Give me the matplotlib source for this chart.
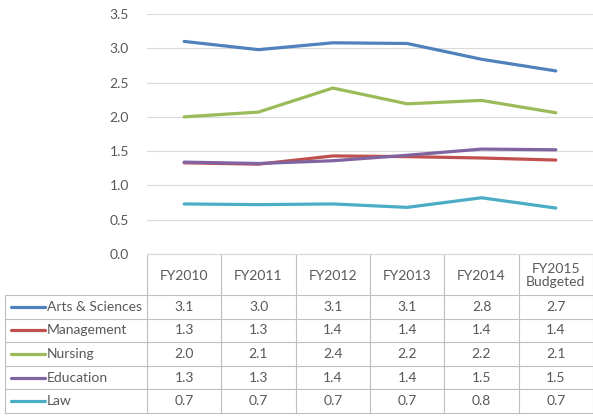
import matplotlib.pyplot as plt

# data
years = ['FY2010', 'FY2011', 'FY2012', 'FY2013', 'FY2014', 'FY2015\nBudgeted']
series_names = ['Arts & Sciences', 'Management', 'Nursing', 'Education', 'Law']
arts = [3.10, 2.98, 3.08, 3.07, 2.84, 2.67]
management = [1.33, 1.31, 1.43, 1.42, 1.40, 1.37]
nursing = [2.00, 2.07, 2.42, 2.19, 2.24, 2.06]
education = [1.34, 1.32, 1.36, 1.44, 1.53, 1.52]
law = [0.73, 0.72, 0.73, 0.68, 0.82, 0.67]
all_values = [arts, management, nursing, education, law]
colors = ['#4F81BD', '#C0504D', '#9BBB59', '#8064A2', '#4BACC6']

plt.rcParams['font.family'] = ['Lato', 'DejaVu Sans']
text_color = '#595959'
grid_color = '#D9D9D9'
border_color = '#BFBFBF'
fs = 10

W, H = 593, 418
fig = plt.figure(figsize=(W / 100, H / 100), dpi=100)

# plot area in pixels
left, right, top, bottom = 147, 593, 14, 254
ax = fig.add_axes([left / W, (H - bottom) / H, (right - left) / W, (bottom - top) / H])
x = list(range(len(years)))
for vals, c in zip(all_values, colors):
    ax.plot(x, vals, color=c, linewidth=2.3, solid_capstyle='round')
ax.set_xlim(-0.5, len(years) - 0.5)
ax.set_ylim(0, 3.5)
ax.set_yticks([0, 0.5, 1.0, 1.5, 2.0, 2.5, 3.0, 3.5])
ax.set_yticklabels([f'{t:.1f}' for t in ax.get_yticks()], color=text_color, fontsize=fs)
ax.set_xticks([])
ax.tick_params(axis='y', length=0, pad=13)
ax.grid(axis='y', color=grid_color, linewidth=0.8)
ax.set_axisbelow(True)
for s in ax.spines.values():
    s.set_visible(False)

# data table below the plot
unit = (right - left) / len(years)


def xd(px):
    return -0.5 + (px - left) / unit


tab_left, tab_bottom = 5, 413
tab = fig.add_axes([tab_left / W, (H - tab_bottom) / H, (right - tab_left) / W, (tab_bottom - bottom) / H])
tab.set_xlim(xd(tab_left), len(years) - 0.5)
tab.set_ylim(tab_bottom, bottom)
tab.axis('off')

header_bottom = 295
row_h = (tab_bottom - header_bottom) / len(series_names)
row_edges = [header_bottom + i * row_h for i in range(len(series_names) + 1)]

# column lines
for i in range(len(years) + 1):
    tab.plot([i - 0.5, i - 0.5], [bottom, tab_bottom], color=border_color, lw=0.8, clip_on=False)
tab.plot([xd(tab_left), xd(tab_left)], [header_bottom, tab_bottom], color=border_color, lw=0.8, clip_on=False)
for y in row_edges:
    tab.plot([xd(tab_left), len(years) - 0.5], [y, y], color=border_color, lw=0.8, clip_on=False)
tab.plot([-0.5, len(years) - 0.5], [bottom, bottom], color=grid_color, lw=0.8, clip_on=False)

# header
for i, yr in enumerate(years):
    tab.text(i, (bottom + header_bottom) / 2 + 1, yr, ha='center', va='center',
             fontsize=fs, color=text_color, linespacing=1.15)

# rows
for r, (name, vals, c) in enumerate(zip(series_names, all_values, colors)):
    yc = (row_edges[r] + row_edges[r + 1]) / 2
    tab.plot([xd(11), xd(45)], [yc, yc], color=c, lw=2.3, solid_capstyle='round', clip_on=False)
    tab.text(xd(47), yc, name, ha='left', va='center', fontsize=fs, color=text_color)
    for i, v in enumerate(vals):
        tab.text(i, yc, f'{v:.1f}', ha='center', va='center', fontsize=fs, color=text_color)

plt.savefig('out.png', dpi=100)
